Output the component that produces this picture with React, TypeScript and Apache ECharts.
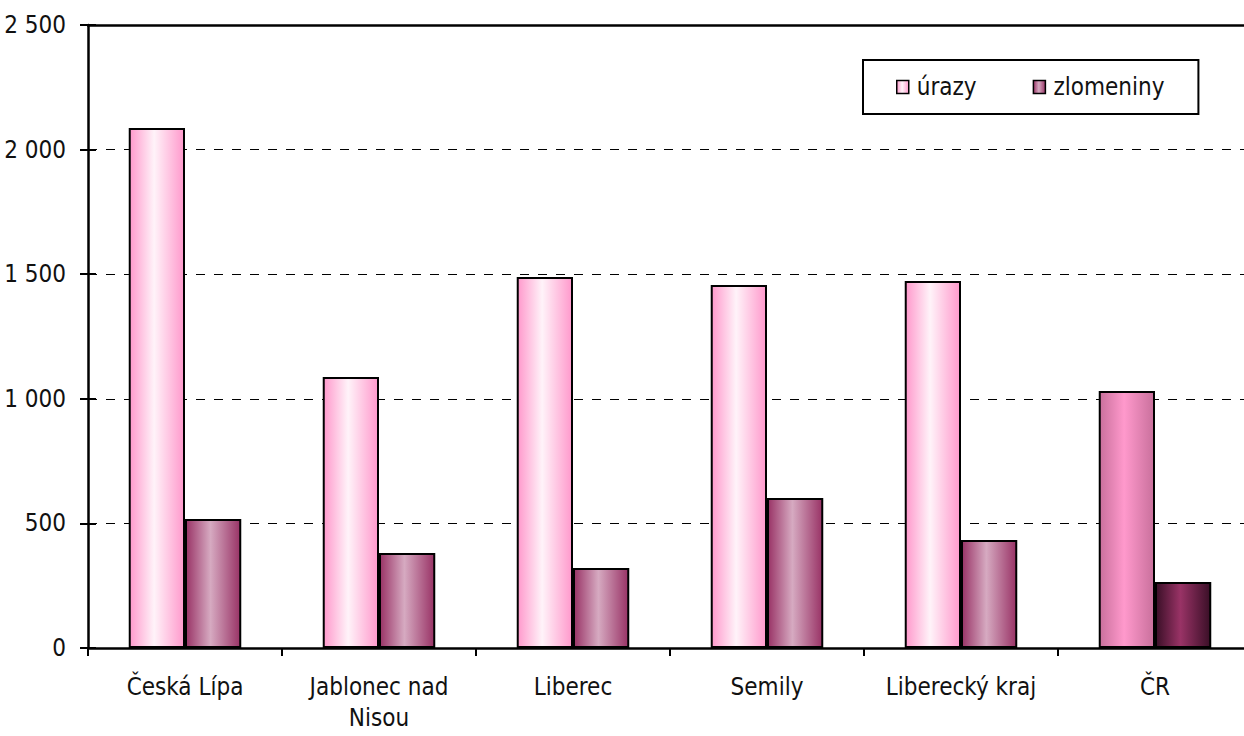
import React, { useEffect, useRef } from "react";
import * as echarts from "echarts";

const categories = ["Česká Lípa", "Jablonec nad\nNisou", "Liberec", "Semily", "Liberecký kraj", "ČR"];
const urazy = [2087, 1087, 1489, 1457, 1473, 1031];
const zlomeniny = [518, 381, 321, 602, 433, 265];
const seriesNames = ["úrazy", "zlomeniny"];

const FONT = "'DejaVu Sans Condensed', 'Liberation Sans Narrow', 'Arial Narrow', 'Liberation Sans', sans-serif";
const FS = 24;

const grad = (edge: string, center: string) =>
  new echarts.graphic.LinearGradient(0, 0, 1, 0, [
    { offset: 0, color: edge },
    { offset: 0.45, color: center },
    { offset: 1, color: edge },
  ]);

export default function App() {
  const ref = useRef<HTMLDivElement>(null);
  useEffect(() => {
    if (!ref.current) return;
    const chart = echarts.init(ref.current, undefined, { renderer: "svg" });
    const lastIdx = categories.length - 1;
    const urazyData = urazy.map((v, i) =>
      i === lastIdx ? { value: v, itemStyle: { color: grad("#c9709c", "#ff99cc") } } : v
    );
    const zlomData = zlomeniny.map((v, i) =>
      i === lastIdx ? { value: v, itemStyle: { color: grad("#3a0f27", "#993366") } } : v
    );
    chart.setOption({
      animation: false,
      textStyle: { fontFamily: FONT },
      grid: { left: 88, right: 8, top: 25, bottom: 88 },
      legend: {
        data: seriesNames,
        left: 863,
        top: 60,
        orient: "horizontal",
        icon: "rect",
        itemWidth: 12,
        itemHeight: 13,
        itemGap: 56,
        padding: [15, 34, 15, 33],
        borderColor: "#000",
        borderWidth: 2,
        backgroundColor: "#fff",
        textStyle: { fontFamily: FONT, fontSize: FS, color: "#111", padding: [0, 0, 0, 3] },
        itemStyle: { borderColor: "#000", borderWidth: 1.5 },
      },
      xAxis: [
        {
          type: "category",
          data: categories,
          axisLine: { lineStyle: { color: "#000", width: 2.5 } },
          axisTick: { show: true, length: 8, lineStyle: { color: "#000", width: 2 } },
          axisLabel: {
            color: "#111",
            fontFamily: FONT,
            fontSize: FS,
            margin: 23,
            lineHeight: 31,
            interval: 0,
          },
        },
        {
          type: "category",
          position: "top",
          data: categories,
          axisLine: { show: true, onZero: false, lineStyle: { color: "#000", width: 2.5 } },
          axisTick: { show: false },
          axisLabel: { show: false },
          splitLine: { show: false },
          z: 10,
        },
      ],
      yAxis: [
        {
          type: "value",
          min: 0,
          max: 2500,
          interval: 500,
          axisLine: { show: true, lineStyle: { color: "#000", width: 2.5 } },
          axisTick: { show: true, length: 8, lineStyle: { color: "#000", width: 2 } },
          axisLabel: {
            color: "#111",
            fontFamily: FONT,
            fontSize: FS,
            margin: 22,
            formatter: (v: number) => String(v).replace(/\B(?=(\d{3})+(?!\d))/g, " "),
          },
          splitLine: { show: true, lineStyle: { color: "#000", type: [9, 9], width: 1.2 } },
        },
        {
          type: "value",
          min: 0,
          max: 2500,
          interval: 500,
          position: "left",
          axisLine: { show: false },
          axisTick: { show: true, inside: true, length: 8, lineStyle: { color: "#000", width: 2 } },
          axisLabel: { show: false },
          splitLine: { show: false },
        },
      ],
      series: [
        {
          name: seriesNames[0],
          type: "bar",
          data: urazyData,
          barGap: "0%",
          barCategoryGap: "42%",
          itemStyle: { color: grad("#ff99cc", "#fff3f9"), borderColor: "#000", borderWidth: 2 },
        },
        {
          name: seriesNames[1],
          type: "bar",
          data: zlomData,
          itemStyle: { color: grad("#993366", "#d6aac1"), borderColor: "#000", borderWidth: 2 },
        },
      ],
    });
    return () => chart.dispose();
  }, []);
  return (
    <div style={{ position: "fixed", left: 0, top: 0, width: 1244, height: 736, overflow: "hidden", background: "#fff" }}>
      <div ref={ref} style={{ position: "absolute", left: 0, top: 0, width: 1260, height: 736 }} />
    </div>
  );
}
